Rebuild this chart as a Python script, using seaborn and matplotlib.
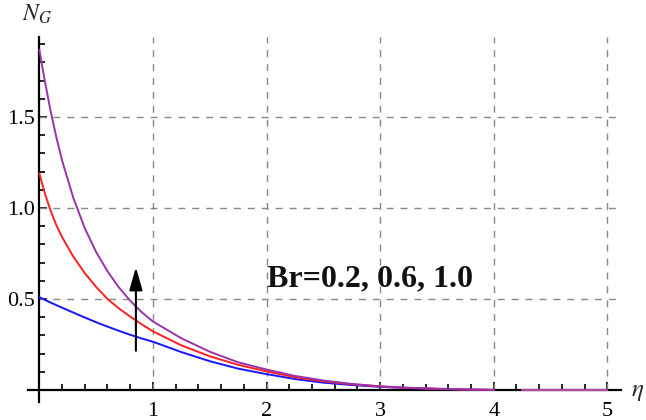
import numpy as np
import pandas as pd
import matplotlib
matplotlib.use("Agg")
import matplotlib.pyplot as plt
from matplotlib.ticker import FixedLocator
import seaborn as sns

# values
eta = [0, 0.05, 0.1, 0.15, 0.2, 0.3, 0.4, 0.5, 0.6, 0.7, 0.8, 0.9, 1.0,
       1.25, 1.5, 1.75, 2.0, 2.25, 2.5, 2.75, 3.0, 3.25, 3.5, 3.75, 4.0]
ng_br02 = [0.51, 0.495, 0.48, 0.466, 0.452, 0.425, 0.398, 0.372, 0.348, 0.325,
           0.303, 0.283, 0.265, 0.208, 0.158, 0.117, 0.087, 0.06, 0.04, 0.027,
           0.017, 0.01, 0.005, 0.002, 0.0]
ng_br06 = [1.19, 1.077, 0.984, 0.905, 0.84, 0.732, 0.642, 0.566, 0.50, 0.448,
           0.403, 0.361, 0.322, 0.245, 0.185, 0.138, 0.102, 0.07, 0.047, 0.031,
           0.019, 0.011, 0.006, 0.002, 0.0]
ng_br10 = [1.87, 1.692, 1.531, 1.388, 1.262, 1.054, 0.889, 0.758, 0.652, 0.564,
           0.49, 0.428, 0.376, 0.284, 0.21, 0.152, 0.112, 0.077, 0.052, 0.033,
           0.02, 0.012, 0.007, 0.003, 0.0]
# short piece drawn again on the axis after the gap
eta_tail = [4.25, 5.0]
ng_tail = [0.0, 0.0]

xticks = [1, 2, 3, 4, 5]
yticks = [0.5, 1.0, 1.5]
ytick_labels = ["0.5", "1.0", "1.5"]

sns.set_style("white")
plt.rcParams["font.family"] = ["Liberation Serif", "DejaVu Serif"]
plt.rcParams["mathtext.fontset"] = "stix"

fig = plt.figure(figsize=(6.46, 4.2), dpi=100)
ax = fig.add_axes([0.0433, 0.043, 0.918, 0.869])

grid_kw = dict(color="#888888", lw=1.0, linestyle=(0, (5, 5)), zorder=1)
ax.vlines(xticks, 0, 1.94, **grid_kw)
ax.hlines(yticks, 0, 5.12, **grid_kw)

sns.lineplot(x=eta, y=ng_br02, color="#1515ff", lw=1.4, ax=ax, zorder=3)
sns.lineplot(x=eta, y=ng_br06, color="#ff2020", lw=1.4, ax=ax, zorder=3)
sns.lineplot(x=eta, y=ng_br10, color="#9933aa", lw=1.4, ax=ax, zorder=3)
sns.lineplot(x=eta_tail, y=ng_tail, color="#b04a9a", lw=1.6, ax=ax, zorder=3)

ax.set_xlim(-0.1, 5.12)
ax.set_ylim(-0.066, 1.94)

for s in ["top", "right"]:
    ax.spines[s].set_visible(False)
ax.spines["left"].set_position(("data", 0))
ax.spines["bottom"].set_position(("data", 0))
ax.spines["left"].set_linewidth(1.6)
ax.spines["bottom"].set_linewidth(1.6)
ax.spines["left"].set_color("black")
ax.spines["bottom"].set_color("black")

ax.xaxis.set_major_locator(FixedLocator(xticks))
ax.xaxis.set_minor_locator(FixedLocator([i * 0.2 for i in range(1, 26) if i % 5]))
ax.yaxis.set_major_locator(FixedLocator(yticks))
ax.yaxis.set_minor_locator(FixedLocator([i * 0.1 for i in range(1, 20) if i % 5]))
ax.set_xticklabels([str(t) for t in xticks])
ax.set_yticklabels(ytick_labels)

ax.tick_params(axis="x", which="both", direction="in", bottom=True, pad=9,
               labelsize=16, width=1.2, colors="black")
ax.tick_params(axis="y", which="both", direction="in", left=True, pad=3,
               labelsize=16, width=1.2, colors="black")
ax.tick_params(which="major", length=6)
ax.tick_params(which="minor", length=4)
ax.set_xlabel("")
ax.set_ylabel("")

ax.annotate("", xy=(0.85, 0.69), xytext=(0.85, 0.20),
            arrowprops=dict(arrowstyle="-|>,head_length=0.7,head_width=0.2",
                            color="black", lw=1.5, mutation_scale=20))
ax.text(2.0, 0.567, "Br=0.2, 0.6, 1.0", fontsize=23, fontweight="bold",
        va="baseline", ha="left", color="#111111")

fig.text(37 / 646, 1 - 14 / 420, "$N_G$", fontsize=17, ha="center", va="center")
fig.text(638 / 646, 1 - 392 / 420, r"$\eta$", fontsize=18, ha="center", va="center")

fig.savefig("out.png", dpi=100)
